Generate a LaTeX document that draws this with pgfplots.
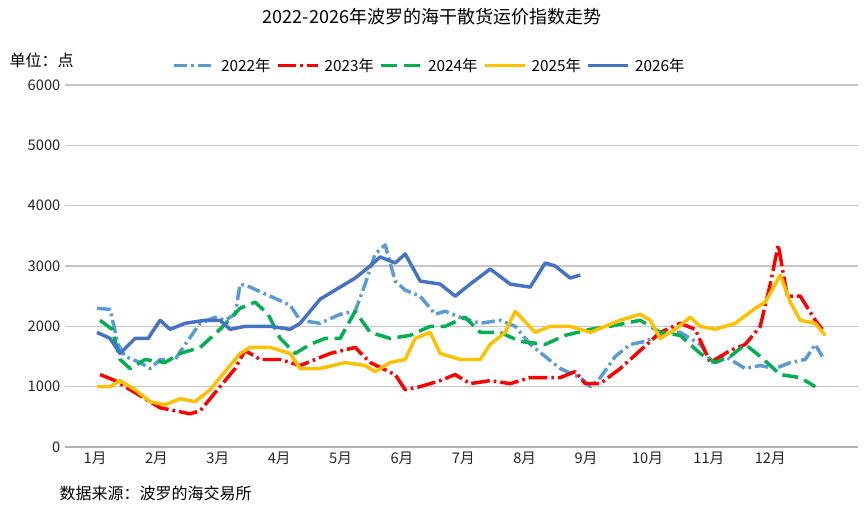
\documentclass[border=0pt]{standalone}
\usepackage{pgfplots}
\pgfplotsset{compat=1.18}
\usepackage{fontspec}
\setmainfont{Noto Sans CJK SC}
\definecolor{c22}{HTML}{5B9BD5}
\definecolor{c23}{HTML}{FF0000}
\definecolor{c24}{HTML}{00B050}
\definecolor{c25}{HTML}{FFC000}
\definecolor{c26}{HTML}{4472C4}
\begin{document}
\begin{tikzpicture}[x=0.75pt,y=0.75pt]
\path[use as bounding box] (0,0) rectangle (865,513);
\begin{axis}[at={(48.75pt,49.5pt)},anchor=south west,scale only axis,width=594.75pt,height=271.5pt,
 xmin=0.51,xmax=13.43,ymin=0,ymax=6000,
 ytick={0,1000,...,6000},ymajorgrids,grid style={gray!45,line width=0.8pt},
 axis y line*=left, y axis line style={draw=none},
 axis x line*=bottom, x axis line style={gray!60,line width=0.8pt},
 xtick={1,...,12},xticklabels={1月,2月,3月,4月,5月,6月,7月,8月,9月,10月,11月,12月},
 major x tick style={draw=none},
 extra x ticks={0.5,1.5,...,12.5},extra x tick labels={},extra x tick style={major tick length=6pt,tick style={gray!60,line width=0.8pt},grid=none},
 ytick style={draw=none},
 tick label style={font=\fontsize{11}{12}\selectfont,color=black!85},
 /pgf/number format/assume math mode=true,/pgf/number format/1000 sep={},
 legend style={at={(0.46,1.025)},anchor=south,draw=none,fill=none,font=\fontsize{11.5}{13}\selectfont,column sep=2pt,inner sep=0pt},
 legend columns=5,
 legend image code/.code={\draw[#1] (0pt,0pt) -- (30pt,0pt);},
 every axis plot/.append style={line width=2.6pt,line join=round},
 clip=false]
\addplot[c22,dash pattern=on 10pt off 3pt on 2pt off 3pt] table[x expr={1+(\thisrowno{0}-95)/61.36},y index=1] {
97 2300
110 2280
118 1700
125 1500
140 1400
150 1300
160 1450
175 1450
185 1700
200 2050
215 2150
225 2100
235 2200
240 2700
250 2650
270 2500
290 2350
300 2100
320 2050
340 2200
355 2250
365 2700
375 3200
385 3350
395 2750
405 2600
420 2500
435 2200
445 2250
460 2150
480 2050
500 2100
515 2000
530 1700
545 1500
560 1300
580 1150
590 1000
600 1150
615 1500
630 1700
645 1750
665 1900
680 1900
700 1700
712 1400
725 1500
745 1300
760 1350
775 1300
790 1400
805 1450
815 1700
822 1500
};
\addlegendentry{2022年}
\addplot[c23,dash pattern=on 14pt off 3pt on 2pt off 3pt] table[x expr={1+(\thisrowno{0}-95)/61.36},y index=1] {
100 1200
115 1100
130 950
145 800
160 650
175 600
190 550
200 600
210 800
225 1100
235 1300
245 1600
260 1450
280 1450
300 1350
315 1450
330 1550
355 1650
370 1400
395 1200
405 950
420 1000
440 1100
455 1200
470 1050
490 1100
510 1050
530 1150
560 1150
575 1250
585 1050
600 1050
620 1300
640 1600
660 1900
680 2050
695 1950
710 1400
730 1600
745 1700
760 2000
770 2700
778 3350
787 2500
800 2500
815 2100
822 1950
};
\addlegendentry{2023年}
\addplot[c24,dash pattern=on 12pt off 5pt] table[x expr={1+(\thisrowno{0}-95)/61.36},y index=1] {
100 2100
112 1950
120 1450
130 1300
145 1450
165 1400
180 1550
200 1650
220 1950
240 2300
255 2400
268 2200
280 1800
295 1550
310 1700
325 1800
340 1800
355 2250
370 1900
390 1800
410 1850
430 2000
445 2000
465 2150
480 1900
500 1900
520 1750
545 1700
565 1850
590 1950
610 2000
640 2100
660 1900
680 1850
700 1550
715 1400
730 1500
745 1700
760 1500
780 1200
800 1150
815 1000
};
\addlegendentry{2024年}
\addplot[c25] table[x expr={1+(\thisrowno{0}-95)/61.36},y index=1] {
97 1000
110 1000
120 1100
135 950
150 750
165 700
180 800
195 750
210 950
225 1250
240 1550
250 1650
270 1650
290 1550
300 1300
320 1300
345 1400
365 1350
375 1250
390 1400
405 1450
415 1800
430 1900
440 1550
460 1450
480 1450
490 1700
505 1900
515 2250
535 1900
550 2000
570 2000
590 1900
605 2000
620 2100
640 2200
650 2100
660 1800
675 1950
690 2150
700 2000
715 1950
735 2050
755 2300
765 2400
780 2850
790 2400
800 2100
815 2050
825 1850
};
\addlegendentry{2025年}
\addplot[c26] table[x expr={1+(\thisrowno{0}-95)/61.36},y index=1] {
97 1900
110 1800
120 1550
135 1800
148 1800
160 2100
170 1950
185 2050
205 2100
220 2100
230 1950
245 2000
270 2000
290 1950
300 2050
320 2450
340 2650
355 2800
370 3000
380 3150
395 3050
405 3200
420 2750
440 2700
455 2500
470 2700
490 2950
510 2700
530 2650
545 3050
555 3000
570 2800
580 2850
};
\addlegendentry{2026年}
\end{axis}
\node[anchor=west,font=\fontsize{12}{14}\selectfont] at (5,453) {单位：点};
\node[font=\fontsize{13.5}{16}\selectfont] at (432,496) {2022-2026年波罗的海干散货运价指数走势};
\node[anchor=west,font=\fontsize{12}{14}\selectfont] at (55,20) {数据来源：波罗的海交易所};
\end{tikzpicture}
\end{document}
